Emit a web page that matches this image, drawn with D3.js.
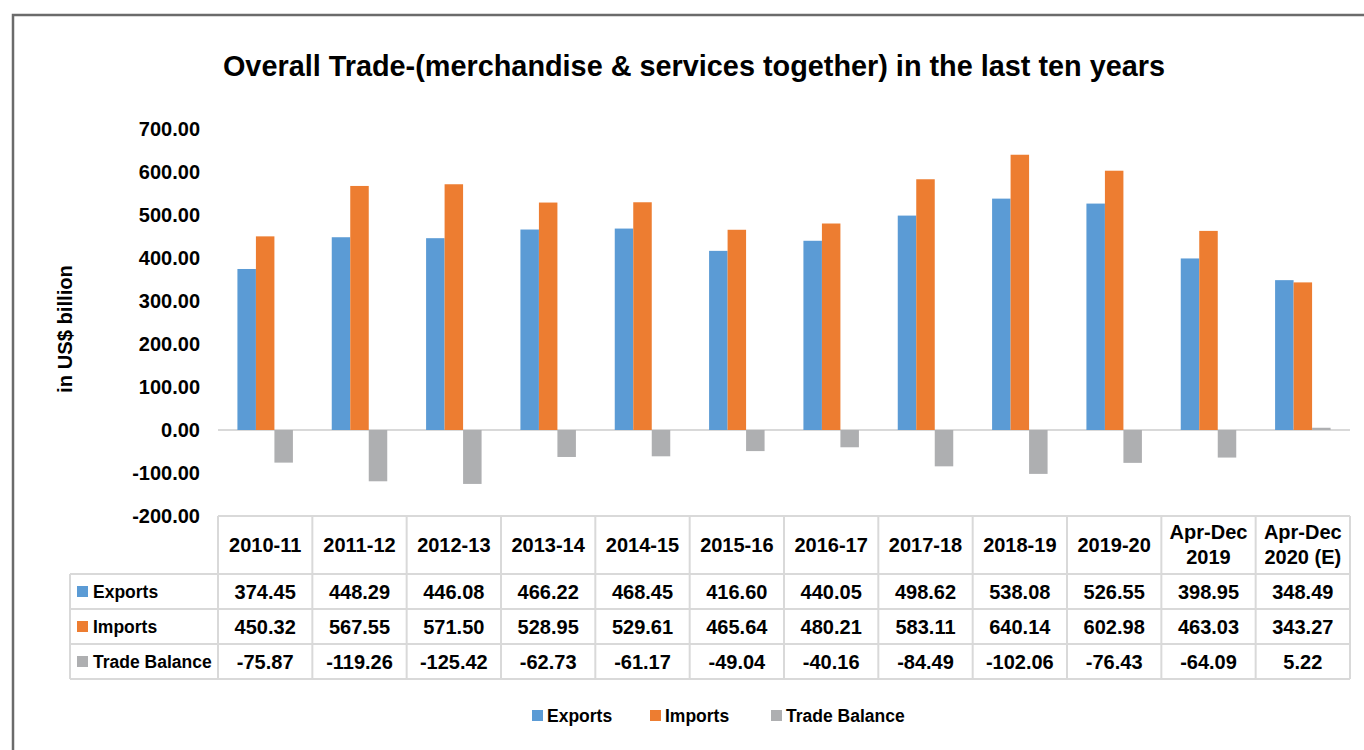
<!DOCTYPE html>
<html>
<head>
<meta charset="utf-8">
<script src="https://cdn.jsdelivr.net/npm/d3@7/dist/d3.min.js"></script>
<style>
  html, body { margin: 0; padding: 0; background: #fff; }
  svg { display: block; }
  text { font-family: "Liberation Sans", Arial, sans-serif; font-weight: bold; fill: #000; }
</style>
</head>
<body>
<svg id="chart" width="1364" height="750"></svg>
<script>
const categories = ["2010-11","2011-12","2012-13","2013-14","2014-15","2015-16","2016-17","2017-18","2018-19","2019-20","Apr-Dec 2019","Apr-Dec 2020 (E)"];
const headerLines = [["2010-11"],["2011-12"],["2012-13"],["2013-14"],["2014-15"],["2015-16"],["2016-17"],["2017-18"],["2018-19"],["2019-20"],["Apr-Dec","2019"],["Apr-Dec","2020 (E)"]];
const exportsVals = [374.45,448.29,446.08,466.22,468.45,416.60,440.05,498.62,538.08,526.55,398.95,348.49];
const importsVals = [450.32,567.55,571.50,528.95,529.61,465.64,480.21,583.11,640.14,602.98,463.03,343.27];
const balanceVals = [-75.87,-119.26,-125.42,-62.73,-61.17,-49.04,-40.16,-84.49,-102.06,-76.43,-64.09,5.22];
const seriesNames = ["Exports","Imports","Trade Balance"];
const seriesValues = [exportsVals, importsVals, balanceVals];
const seriesColors = ["#5B9BD5","#ED7D31","#AEAFB1"];
const yTicks = [-200,-100,0,100,200,300,400,500,600,700];
const titleText = "Overall Trade-(merchandise & services together) in the last ten years";
const yTitle = "in US$ billion";

const svg = d3.select("#chart");
const locale = d3.formatLocale({decimal: ".", thousands: ",", grouping: [3], currency: ["$", ""], minus: "-"});
const fmt = locale.format(".2f");

function fitText(sel, width) {
  const node = sel.node();
  const fs = parseFloat(sel.style("font-size"));
  const w = node.getComputedTextLength();
  sel.style("font-size", (fs * width / w).toFixed(2) + "px");
}

// frame
svg.append("rect").attr("x", 13).attr("y", 15).attr("width", 1400).attr("height", 800)
  .attr("fill", "none").attr("stroke", "#6b6b6b").attr("stroke-width", 2.5);

// title
const t = svg.append("text").attr("x", 694).attr("y", 76).attr("text-anchor", "middle")
  .style("font-size", "28px").text(titleText);
fitText(t, 942);

const left = 218, right = 1350;
const y = d3.scaleLinear().domain([-200, 700]).range([516, 129]);
const x0 = d3.scaleBand().domain(categories).range([left, right]).paddingInner(0).paddingOuter(0);
const x1 = d3.scaleBand().domain(seriesNames).range([0, x0.bandwidth()]).paddingInner(0).paddingOuter(1.05);

// y axis labels
const yAxis = d3.axisLeft(y).tickValues(yTicks).tickFormat(fmt).tickSize(0).tickPadding(0);
const ga = svg.append("g").attr("transform", "translate(200,0)").call(yAxis);
ga.select(".domain").remove();
ga.selectAll("text").style("font-size", "20px").style("font-family", null).attr("fill", "#000");

// y title
const yt = svg.append("text").attr("transform", "translate(72,329) rotate(-90)")
  .attr("text-anchor", "middle").style("font-size", "17px").text(yTitle);
fitText(yt, 128);

// zero line
svg.append("line").attr("x1", left).attr("x2", right).attr("y1", y(0)).attr("y2", y(0))
  .attr("stroke", "#d9d9d9").attr("stroke-width", 2);

// bars
const groups = svg.append("g").selectAll("g").data(categories).join("g")
  .attr("transform", d => `translate(${x0(d)},0)`);
groups.selectAll("rect").data((d, i) => seriesNames.map((s, k) => ({s, v: seriesValues[k][i], c: seriesColors[k]})))
  .join("rect")
  .attr("x", d => x1(d.s))
  .attr("width", x1.bandwidth())
  .attr("y", d => y(Math.max(0, d.v)))
  .attr("height", d => Math.abs(y(d.v) - y(0)))
  .attr("fill", d => d.c);

// table
const gridColor = "#d9d9d9";
const tbl = svg.append("g");
tbl.append("line").attr("x1", left).attr("x2", right).attr("y1", 516).attr("y2", 516).attr("stroke", gridColor).attr("stroke-width", 2);
[574, 609, 644, 679].forEach(yy => {
  tbl.append("line").attr("x1", 70).attr("x2", right).attr("y1", yy).attr("y2", yy).attr("stroke", gridColor).attr("stroke-width", 2);
});
tbl.append("line").attr("x1", 70).attr("x2", 70).attr("y1", 574).attr("y2", 679).attr("stroke", gridColor).attr("stroke-width", 2);
categories.concat([null]).forEach((c) => {
  const xx = c === null ? right : x0(c);
  tbl.append("line").attr("x1", xx).attr("x2", xx).attr("y1", 516).attr("y2", 679).attr("stroke", gridColor).attr("stroke-width", 2);
});
// header text
categories.forEach((c, i) => {
  const cx = x0(c) + x0.bandwidth() / 2;
  const lines = headerLines[i];
  const txt = tbl.append("text").attr("x", cx).attr("text-anchor", "middle").style("font-size", "20px");
  if (lines.length === 1) {
    txt.append("tspan").attr("x", cx).attr("y", 545).attr("dy", "0.35em").text(lines[0]);
  } else {
    txt.append("tspan").attr("x", cx).attr("y", 532).attr("dy", "0.35em").text(lines[0]);
    txt.append("tspan").attr("x", cx).attr("y", 557).attr("dy", "0.35em").text(lines[1]);
  }
});
// rows
const rowCenters = [591.5, 626.5, 661.5];
seriesNames.forEach((s, k) => {
  const cy = rowCenters[k];
  tbl.append("rect").attr("x", 77).attr("y", cy - 5.5).attr("width", 11).attr("height", 11).attr("fill", seriesColors[k]);
  tbl.append("text").attr("x", 93).attr("y", cy).attr("dy", "0.35em").style("font-size", "17.5px").text(s);
  categories.forEach((c, i) => {
    tbl.append("text").attr("x", x0(c) + x0.bandwidth() / 2).attr("y", cy).attr("dy", "0.35em")
      .attr("text-anchor", "middle").style("font-size", "20px").text(fmt(seriesValues[k][i]));
  });
});

// legend
const legendX = [532, 650, 771];
const lg = svg.append("g");
seriesNames.forEach((s, k) => {
  lg.append("rect").attr("x", legendX[k]).attr("y", 710).attr("width", 11).attr("height", 11).attr("fill", seriesColors[k]);
  lg.append("text").attr("x", legendX[k] + 15).attr("y", 716).attr("dy", "0.35em").style("font-size", "17.5px").text(s);
});
</script>
</body>
</html>
